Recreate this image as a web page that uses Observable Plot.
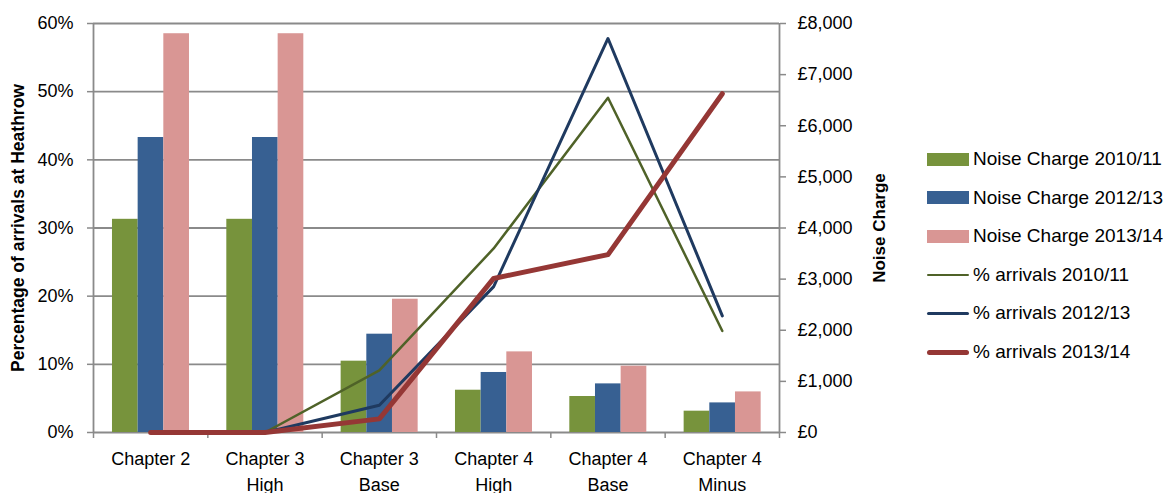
<!DOCTYPE html>
<html>
<head>
<meta charset="utf-8">
<script src="https://cdn.jsdelivr.net/npm/d3@7"></script>
<script src="https://cdn.jsdelivr.net/npm/@observablehq/plot@0.6"></script>
<style>
  html, body { margin: 0; padding: 0; background: #fff; }
  #wrap { position: relative; width: 1167px; height: 493px; overflow: hidden; font-family: "Liberation Sans", Arial, sans-serif; }
  #legend { position: absolute; left: 927px; top: 0; }
  .item { position: absolute; left: 0; height: 20px; width: 240px; }
  .sw { position: absolute; left: 0; }
  .lbl { position: absolute; left: 46px; top: -1px; font-size: 19px; line-height: 22px; white-space: nowrap; color: #000; }
</style>
</head>
<body>
<div id="wrap"><div id="legend"></div></div>
<script>
const categories = ["Chapter 2", "Chapter 3\nHigh", "Chapter 3\nBase", "Chapter 4\nHigh", "Chapter 4\nBase", "Chapter 4\nMinus"];
const charge2010 = [4170, 4170, 1395, 827, 704, 417];
const charge2012 = [5770, 5770, 1923, 1174, 951, 579];
const charge2013 = [7800, 7800, 2607, 1577, 1297, 794];
const arrivals2010 = [0, 0, 9.1, 27.0, 49.1, 14.9];
const arrivals2012 = [0, 0, 4.0, 21.4, 57.8, 17.1];
const arrivals2013 = [0, 0, 2.0, 22.6, 26.1, 49.7];
const barSeries = ["Noise Charge 2010/11", "Noise Charge 2012/13", "Noise Charge 2013/14"];
const lineSeries = ["% arrivals 2010/11", "% arrivals 2012/13", "% arrivals 2013/14"];
const leftTicks = [0, 10, 20, 30, 40, 50, 60];
const rightTickValues = [0, 1000, 2000, 3000, 4000, 5000, 6000, 7000, 8000];

const barColors = ["#77933C", "#376092", "#D99694"];
const lineColors = ["#4F6228", "#1F3A60", "#953735"];
const lineWidths = [2.5, 3, 5];
const gray = "#8a8a8a";

const chargeMax = 8000, pctMax = 60;
const toPct = v => v * pctMax / chargeMax;

const barCharges = [charge2010, charge2012, charge2013];
const bars = [];
categories.forEach((c, i) => {
  barCharges.forEach((arr, k) => {
    const x1 = i + 0.166 + k * 0.2245;
    bars.push({series: barSeries[k], x1, x2: x1 + 0.2245, y: toPct(arr[i])});
  });
});
const lineArr = [arrivals2010, arrivals2012, arrivals2013];
const lineData = lineArr.map((arr, k) => arr.map((v, i) => ({series: lineSeries[k], x: i + 0.5, y: v})));

const chart = Plot.plot({
  width: 1167, height: 493,
  marginLeft: 93, marginRight: 388, marginTop: 23, marginBottom: 61,
  x: {type: "linear", domain: [0, categories.length], axis: null},
  y: {domain: [0, pctMax], axis: null},
  color: {domain: [...barSeries, ...lineSeries], range: [...barColors, ...lineColors]},
  style: {fontFamily: "Liberation Sans, Arial, sans-serif", fontSize: "18px", background: "white", color: "#000", overflow: "visible"},
  marks: [
    Plot.ruleY(leftTicks, {stroke: gray, strokeWidth: 1.8}),
    Plot.rectY(bars, {x1: "x1", x2: "x2", y1: 0, y2: "y", fill: "series"}),
    Plot.ruleX([0, categories.length], {stroke: gray, strokeWidth: 1.8}),
    Plot.axisY(leftTicks, {anchor: "left", tickSize: 6, tickPadding: 14, stroke: gray, strokeWidth: 1.5, tickFormat: d => d + "%", label: null, fill: "#000"}),
    Plot.axisY(rightTickValues.map(toPct), {anchor: "right", tickSize: 6, tickPadding: 12, stroke: gray, strokeWidth: 1.5, tickFormat: d => "£" + d3.format(",")(Math.round(d * chargeMax / pctMax)), label: null}),
    Plot.axisX(d3.range(categories.length + 1), {anchor: "bottom", tickSize: 6, stroke: gray, strokeWidth: 1.5, tickFormat: () => "", label: null}),
    Plot.axisX(d3.range(categories.length).map(i => i + 0.5), {anchor: "bottom", tickSize: 0, tickPadding: 15, tickFormat: d => categories[Math.floor(d)], label: null, lineHeight: 1.4}),
    ...lineData.map((d, k) => Plot.line(d, {x: "x", y: "y", stroke: "series", strokeWidth: lineWidths[k], strokeLinejoin: "round"})),
    Plot.text(["Percentage of arrivals at Heathrow"], {frameAnchor: "left", dx: -75, rotate: -90, textAnchor: "middle", fontWeight: "bold", fontSize: 17.5}),
    Plot.text(["Noise Charge"], {frameAnchor: "right", dx: 100, rotate: -90, textAnchor: "middle", fontWeight: "bold", fontSize: 17})
  ]
});
document.getElementById("wrap").prepend(chart);
chart.style.position = "absolute";
chart.style.left = "0"; chart.style.top = "0";

const legend = document.getElementById("legend");
const centers = [159, 197.6, 236.2, 274.8, 313.4, 352];
const items = [
  ...barSeries.map((s, k) => ({label: s, type: "bar", color: barColors[k]})),
  ...lineSeries.map((s, k) => ({label: s, type: "line", color: lineColors[k], w: lineWidths[k]}))
];
items.forEach((it, j) => {
  const div = document.createElement("div");
  div.className = "item";
  div.style.top = (centers[j] - 10) + "px";
  const sw = document.createElement("div");
  sw.className = "sw";
  if (it.type === "bar") {
    sw.style.width = "42px"; sw.style.height = "13px"; sw.style.top = "3.5px"; sw.style.background = it.color;
  } else {
    sw.style.width = "42px"; sw.style.height = it.w + "px"; sw.style.top = (10 - it.w / 2) + "px"; sw.style.background = it.color; sw.style.borderRadius = (it.w / 2) + "px";
  }
  const lbl = document.createElement("div");
  lbl.className = "lbl";
  lbl.textContent = it.label;
  div.appendChild(sw); div.appendChild(lbl);
  legend.appendChild(div);
});
</script>
</body>
</html>
